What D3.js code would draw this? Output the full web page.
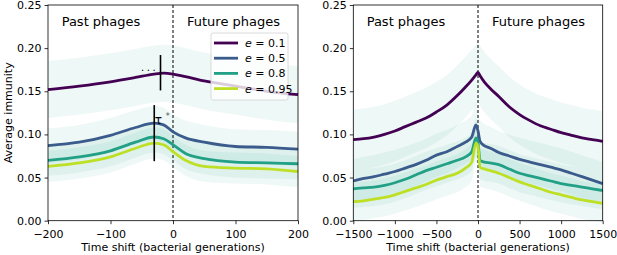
<meta charset="utf-8">
<html>
<head>
<style>
  body { margin: 0; background: #fff; }
  svg text { font-family: "DejaVu Sans", sans-serif; }
</style>
</head>
<body>
<script src="https://d3js.org/d3.v7.min.js"></script>
<div id="chart"></div>
<script>
// ---- data ----
var labels = ["0.1", "0.5", "0.8", "0.95"];
var colors = ["#440154", "#3b5b8c", "#21a086", "#bddf26"];

var leftT = [-200, -150, -100, -60, -30, -15, 0, 20, 50, 100, 150, 200];
var leftE01 = [0.152, 0.156, 0.161, 0.166, 0.170, 0.171, 0.170, 0.167, 0.162, 0.156, 0.150, 0.146];
var leftE05 = [0.087, 0.091, 0.099, 0.108, 0.113, 0.111, 0.103, 0.096, 0.091, 0.086, 0.085, 0.083];
var leftE08 = [0.070, 0.074, 0.081, 0.091, 0.097, 0.095, 0.088, 0.078, 0.072, 0.068, 0.067, 0.066];
var leftE095 = [0.063, 0.067, 0.074, 0.084, 0.090, 0.088, 0.080, 0.070, 0.063, 0.061, 0.060, 0.057];
var leftBand = [0.033, 0.02, 0.018, 0.018];

var rightT = [-1500, -1375, -1250, -1125, -1000, -875, -750, -625, -500, -375, -250, -150, -75, -25, 0,
              25, 75, 150, 250, 375, 500, 625, 750, 875, 1000, 1125, 1250, 1375, 1500];
var rightE01 = [0.094, 0.095, 0.097, 0.100, 0.104, 0.109, 0.114, 0.119, 0.126, 0.134, 0.145, 0.155, 0.163, 0.169, 0.172,
                0.168, 0.161, 0.153, 0.144, 0.132, 0.123, 0.116, 0.110, 0.106, 0.102, 0.099, 0.096, 0.094, 0.092];
var rightE05 = [0.046, 0.049, 0.051, 0.054, 0.057, 0.061, 0.065, 0.070, 0.076, 0.080, 0.086, 0.091, 0.097, 0.111, 0.104,
                0.092, 0.087, 0.084, 0.079, 0.075, 0.071, 0.068, 0.065, 0.062, 0.059, 0.055, 0.051, 0.047, 0.043];
var rightE08 = [0.037, 0.038, 0.039, 0.041, 0.044, 0.048, 0.053, 0.058, 0.062, 0.066, 0.070, 0.074, 0.080, 0.096, 0.090,
                0.070, 0.068, 0.067, 0.065, 0.060, 0.055, 0.052, 0.049, 0.046, 0.043, 0.041, 0.039, 0.037, 0.035];
var rightE095 = [0.022, 0.023, 0.025, 0.027, 0.030, 0.034, 0.038, 0.042, 0.047, 0.051, 0.055, 0.061, 0.068, 0.090, 0.086,
                 0.062, 0.060, 0.058, 0.055, 0.050, 0.045, 0.041, 0.037, 0.033, 0.030, 0.027, 0.024, 0.022, 0.020];
var rightBand = [0.035, 0.025, 0.022, 0.022];

var yTicks = [0, 0.05, 0.10, 0.15, 0.20, 0.25];
var leftTicks = [-200, -100, 0, 100, 200];
var rightTicks = [-1500, -1000, -500, 0, 500, 1000, 1500];

// tau* markers (time, low, high)
var tauLines = [[-20, 0.151, 0.192], [-30, 0.069, 0.134]];

// ---- layout ----
var W = 617, H = 255;
var svg = d3.select("#chart").append("svg").attr("width", W).attr("height", H);

var plotTop = 5, plotBottom = 220.7;
var y = d3.scaleLinear().domain([0, 0.25]).range([plotBottom, plotTop]);

function panel(x0, x1, domain, ticks, T, series, band, withLegend) {
  var x = d3.scaleLinear().domain(domain).range([x0, x1]);
  var g = svg.append("g");

  // bands
  series.forEach(function(s, i) {
    var area = d3.area()
      .x(function(d, j) { return x(T[j]); })
      .y0(function(d) { return y(d - band[i]); })
      .y1(function(d) { return y(d + band[i]); })
      .curve(d3.curveMonotoneX);
    g.append("path").attr("d", area(s))
      .attr("fill", "#21a086").attr("opacity", 0.075);
  });

  // zero line
  g.append("line").attr("x1", x(0)).attr("x2", x(0)).attr("y1", plotTop).attr("y2", plotBottom)
    .attr("stroke", "#000").attr("stroke-width", 1).attr("stroke-dasharray", "3,2");

  // lines
  series.forEach(function(s, i) {
    var line = d3.line()
      .x(function(d, j) { return x(T[j]); })
      .y(function(d) { return y(d); })
      .curve(d3.curveMonotoneX);
    g.append("path").attr("d", line(s))
      .attr("fill", "none").attr("stroke", colors[i]).attr("stroke-width", 2.8);
  });

  // axes
  var xa = g.append("g").attr("transform", "translate(0," + plotBottom + ")")
    .call(d3.axisBottom(x).tickValues(ticks).tickSize(3.5).tickSizeOuter(0)
      .tickFormat(function(d) { return d < 0 ? "\u2212" + Math.abs(d) : d; }));
  var ya = g.append("g").attr("transform", "translate(" + x0 + ",0)")
    .call(d3.axisLeft(y).tickValues(yTicks).tickSize(3.5).tickSizeOuter(0).tickFormat(d3.format(".2f")));
  [xa, ya].forEach(function(a) {
    a.selectAll("text").attr("font-size", 11).attr("fill", "#000")
      .style("font-family", "DejaVu Sans");
    a.selectAll("line").attr("stroke-width", 0.8);
    a.select(".domain").remove();
  });
  xa.selectAll("text").attr("dy", "0.95em");

  // frame
  g.append("rect").attr("x", x0).attr("y", plotTop).attr("width", x1 - x0).attr("height", plotBottom - plotTop)
    .attr("fill", "none").attr("stroke", "#000").attr("stroke-width", 0.8);

  g.append("text").attr("x", x(0) - 72).attr("y", 26).attr("text-anchor", "middle")
    .attr("font-size", 13).text("Past phages");
  g.append("text").attr("x", x(0) + 60.5).attr("y", 26).attr("text-anchor", "middle")
    .attr("font-size", 13).text("Future phages");

  g.append("text").attr("x", (x0 + x1) / 2).attr("y", 251).attr("text-anchor", "middle")
    .attr("font-size", 11).text("Time shift (bacterial generations)");

  if (withLegend) {
    tauLines.forEach(function(t) {
      g.append("line").attr("x1", x(t[0])).attr("x2", x(t[0]))
        .attr("y1", y(t[1])).attr("y2", y(t[2]))
        .attr("stroke", "#000").attr("stroke-width", 1.6);
    });
    g.append("text").attr("x", x(-30) + 0.5).attr("y", 123.5).attr("font-size", 12)
      .text("\u03c4");
    g.append("text").attr("x", x(-30) + 11.5).attr("y", 119).attr("font-size", 8)
      .attr("fill", "#555").text("*");
    g.append("text").attr("x", x(-20) - 19.5).attr("y", 70.5).attr("font-size", 10)
      .attr("letter-spacing", 2.6).text("...");

    var lg = g.append("g").attr("transform", "translate(211,33)");
    lg.append("rect").attr("width", 77).attr("height", 67).attr("rx", 2)
      .attr("fill", "#fff").attr("fill-opacity", 0.8).attr("stroke", "#d0d0d0").attr("stroke-width", 0.8);
    labels.forEach(function(l, i) {
      var yy = 10 + i * 15.2;
      lg.append("line").attr("x1", 3).attr("x2", 27).attr("y1", yy).attr("y2", yy)
        .attr("stroke", colors[i]).attr("stroke-width", 2.8);
      var t = lg.append("text").attr("x", 34).attr("y", yy + 4).attr("font-size", 11);
      t.append("tspan").attr("font-style", "italic").text("e");
      t.append("tspan").text(" = " + l);
    });
  }
  return g;
}

panel(48, 298, [-200, 200], leftTicks, leftT, [leftE01, leftE05, leftE08, leftE095], leftBand, true);
panel(353.3, 602.7, [-1500, 1500], rightTicks, rightT, [rightE01, rightE05, rightE08, rightE095], rightBand, false);

svg.append("text").attr("transform", "translate(12," + ((plotTop + plotBottom) / 2) + ") rotate(-90)")
  .attr("text-anchor", "middle").attr("font-size", 11).text("Average immunity");
</script>
</body>
</html>
